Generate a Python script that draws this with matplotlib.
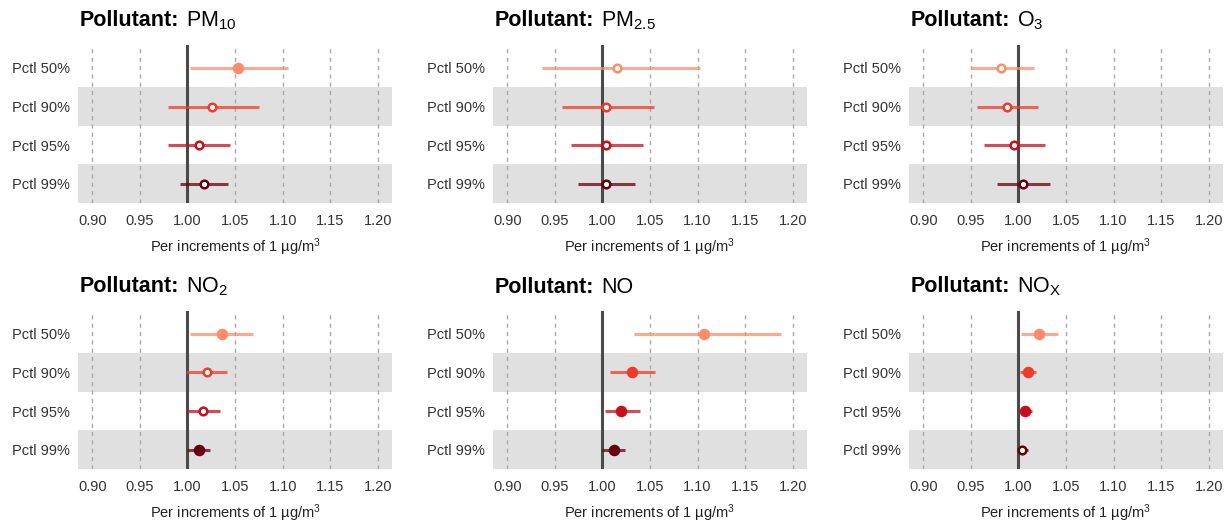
import matplotlib.pyplot as plt
from matplotlib.offsetbox import TextArea, HPacker, AnchoredOffsetbox

plt.rcParams['font.family'] = ['Liberation Sans', 'DejaVu Sans']
plt.rcParams['mathtext.fontset'] = 'custom'
plt.rcParams['mathtext.rm'] = 'Liberation Sans'
plt.rcParams['mathtext.bf'] = 'Liberation Sans:bold'
plt.rcParams['mathtext.it'] = 'Liberation Sans:italic'

# data
rows = ['Pctl 50%', 'Pctl 90%', 'Pctl 95%', 'Pctl 99%']
pollutants = ['PM$_{10}$', 'PM$_{2.5}$', 'O$_3$', 'NO$_2$', 'NO', 'NO$_\\mathrm{X}$']

est = [
    [1.053, 1.026, 1.012, 1.017],
    [1.015, 1.004, 1.004, 1.004],
    [0.982, 0.988, 0.995, 1.005],
    [1.036, 1.020, 1.016, 1.012],
    [1.107, 1.031, 1.020, 1.012],
    [1.022, 1.010, 1.007, 1.004],
]
lower = [
    [1.003, 0.980, 0.980, 0.992],
    [0.936, 0.957, 0.967, 0.974],
    [0.950, 0.957, 0.964, 0.977],
    [1.003, 0.998, 0.999, 1.000],
    [1.033, 1.008, 1.003, 1.000],
    [1.003, 1.002, 1.001, 1.000],
]
upper = [
    [1.106, 1.075, 1.045, 1.043],
    [1.102, 1.054, 1.043, 1.034],
    [1.016, 1.021, 1.028, 1.033],
    [1.069, 1.042, 1.034, 1.024],
    [1.188, 1.055, 1.039, 1.024],
    [1.042, 1.018, 1.014, 1.010],
]
# True = filled dot, False = hollow
filled = [
    [True, False, False, False],
    [False, False, False, False],
    [False, False, False, False],
    [True, False, False, True],
    [True, True, True, True],
    [True, True, True, False],
]
xticks = [0.90, 0.95, 1.00, 1.05, 1.10, 1.15, 1.20]

colors = ['#fc8d6a', '#ef3b2c', '#c8101d', '#67000d']

fig = plt.figure(figsize=(12.31, 5.24), dpi=100)
lefts = [0.0634, 0.4005, 0.7384]
bottoms = [0.6126, 0.105]

for i, name in enumerate(pollutants):
    ax = fig.add_axes([lefts[i % 3], bottoms[i // 3], 0.2551, 0.302])
    ax.set_xlim(0.885, 1.215)
    ax.set_ylim(4.5, 0.4)

    for r in (2, 4):
        ax.axhspan(r - 0.5, r + 0.5, color='#e0e0e0', lw=0, zorder=0)
    for t in xticks:
        ax.axvline(t, color='#a8a8a8', ls=(0, (3, 3)), lw=1, zorder=1)
    ax.axvline(1.0, color='#4a4a4a', lw=2.2, zorder=2)

    for j in range(4):
        y = j + 1
        ax.plot([lower[i][j], upper[i][j]], [y, y], color=colors[j],
                lw=2.2, alpha=0.75, solid_capstyle='butt', zorder=3)
        face = colors[j] if filled[i][j] else 'white'
        ax.plot(est[i][j], y, 'o', ms=6.5 if filled[i][j] else 5.5,
                mfc=face, mec=colors[j], mew=1.8, zorder=4)

    ax.set_yticks([1, 2, 3, 4])
    ax.set_yticklabels(rows)
    ax.set_xticks(xticks)
    ax.set_xticklabels(['%.2f' % t for t in xticks])
    ax.tick_params(length=0, labelsize=10.5, labelcolor='#333333')
    ax.tick_params(axis='y', pad=6)
    ax.tick_params(axis='x', pad=8)
    for s in ax.spines.values():
        s.set_visible(False)
    ax.set_xlabel('Per increments of 1 µg/m$^3$', fontsize=10.5,
                  color='#222222', labelpad=6)

    # title: bold "Pollutant:" followed by the pollutant name
    t1 = TextArea('Pollutant:', textprops=dict(fontsize=15.5, fontweight='bold'))
    t2 = TextArea(name, textprops=dict(fontsize=15.5))
    box = HPacker(children=[t1, t2], align='baseline', pad=0, sep=5)
    title = AnchoredOffsetbox(loc='lower left', child=box, pad=0, borderpad=0,
                              frameon=False, bbox_to_anchor=(0.005, 1.08),
                              bbox_transform=ax.transAxes)
    ax.add_artist(title)

fig.savefig('out.png', dpi=100)
